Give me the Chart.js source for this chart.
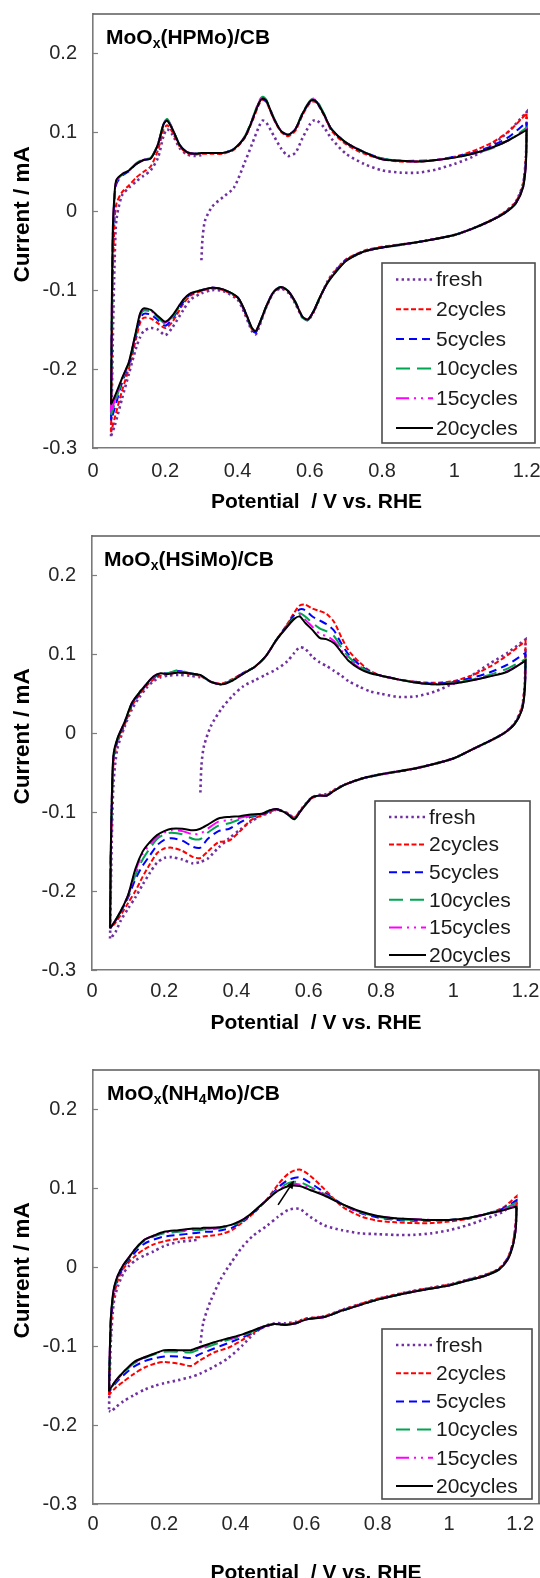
<!DOCTYPE html>
<html>
<head>
<meta charset="utf-8">
<title>MoOx/CB cyclic voltammograms</title>
<script src="https://cdn.jsdelivr.net/npm/chart.js@4.4.1/dist/chart.umd.min.js"></script>
<style>
    html, body { margin: 0; padding: 0; background: #fff; }
    body { position: relative; width: 540px; height: 1578px; overflow: hidden; }
    canvas { position: absolute; left: 0; }
</style>
</head>
<body>
<canvas id="chart-hpmo" width="540" height="520" style="top:0px"></canvas>
<canvas id="chart-hsimo" width="540" height="520" style="top:520px"></canvas>
<canvas id="chart-nh4mo" width="540" height="546" style="top:1040px"></canvas>
<script>
// ==================== Data ====================

const seriesLabels = ['fresh', '2cycles', '5cycles', '10cycles', '15cycles', '20cycles'];
const xTicks = [0, 0.2, 0.4, 0.6, 0.8, 1, 1.2];
const xTickLabels = ['0', '0.2', '0.4', '0.6', '0.8', '1', '1.2'];
const yTicks = [-0.3, -0.2, -0.1, 0, 0.1, 0.2];
const yTickLabels = ['-0.3', '-0.2', '-0.1', '0', '0.1', '0.2'];

// MoOx(HPMo)/CB  - potential (V vs. RHE): anodic sweep, then cathodic sweep
const hpmoPotential = [
    0.05, 0.052, 0.055, 0.06, 0.065, 0.08, 0.1, 0.12, 0.14, 0.16, 0.18, 0.195, 0.205, 0.22, 0.24, 0.26, 0.28, 0.3, 0.3, 0.3, 0.303, 0.31, 0.33, 0.36, 0.39, 0.42, 0.44, 0.46, 0.47, 0.48, 0.5, 0.52, 0.54, 0.56, 0.58, 0.6, 0.61, 0.62, 0.64, 0.66, 0.7, 0.75, 0.8, 0.85, 0.9, 0.95, 1.0, 1.05, 1.1, 1.15, 1.2,
    1.2, 1.198, 1.19, 1.17, 1.14, 1.1, 1.05, 1.0, 0.9, 0.8, 0.75, 0.7, 0.67, 0.65, 0.63, 0.61, 0.595, 0.58, 0.56, 0.54, 0.52, 0.5, 0.48, 0.46, 0.45, 0.44, 0.42, 0.4, 0.36, 0.33, 0.3, 0.27, 0.25, 0.22, 0.2, 0.18, 0.16, 0.14, 0.13, 0.12, 0.1, 0.08, 0.06, 0.05
];
// current (mA)
const hpmoFresh = [
    -0.285, -0.24, -0.16, -0.06, -0.01, 0.020, 0.030, 0.038, 0.045, 0.052, 0.068, 0.095, 0.104, 0.097, 0.080, 0.072, 0.070, 0.071, null, -0.062, -0.035, -0.012, 0.006, 0.018, 0.030, 0.062, 0.085, 0.108, 0.115, 0.112, 0.096, 0.080, 0.070, 0.074, 0.093, 0.110, 0.115, 0.115, 0.106, 0.092, 0.073, 0.060, 0.052, 0.049, 0.049, 0.053, 0.060, 0.069, 0.083, 0.101, 0.126,
    0.126, 0.07, 0.035, 0.012, -0.001, -0.012, -0.022, -0.030, -0.039, -0.046, -0.051, -0.062, -0.075, -0.088, -0.108, -0.128, -0.138, -0.135, -0.117, -0.103, -0.098, -0.103, -0.121, -0.146, -0.156, -0.152, -0.130, -0.112, -0.101, -0.100, -0.104, -0.112, -0.125, -0.147, -0.157, -0.150, -0.148, -0.152, -0.160, -0.172, -0.205, -0.238, -0.272, -0.285
];
const hpmoCycles2 = [
    -0.28, -0.2, -0.08, -0.01, 0.01, 0.024, 0.033, 0.043, 0.050, 0.057, 0.078, 0.103, 0.109, 0.100, 0.082, 0.074, 0.072, 0.073, 0.073, 0.073, 0.073, 0.073, 0.073, 0.073, 0.078, 0.093, 0.113, 0.136, 0.141, 0.138, 0.117, 0.101, 0.095, 0.102, 0.122, 0.137, 0.139, 0.137, 0.121, 0.102, 0.085, 0.073, 0.066, 0.063, 0.063, 0.065, 0.069, 0.076, 0.086, 0.101, 0.124,
    0.124, 0.07, 0.034, 0.012, -0.001, -0.012, -0.022, -0.030, -0.039, -0.045, -0.050, -0.061, -0.076, -0.089, -0.107, -0.128, -0.137, -0.134, -0.116, -0.102, -0.097, -0.102, -0.121, -0.144, -0.153, -0.150, -0.128, -0.110, -0.100, -0.098, -0.101, -0.107, -0.117, -0.140, -0.148, -0.142, -0.136, -0.135, -0.142, -0.160, -0.198, -0.228, -0.262, -0.28
];
const hpmoCycles5 = [
    -0.265, -0.15, -0.04, 0.018, 0.035, 0.045, 0.051, 0.060, 0.065, 0.067, 0.085, 0.110, 0.116, 0.104, 0.084, 0.075, 0.073, 0.074, 0.074, 0.074, 0.074, 0.074, 0.074, 0.074, 0.079, 0.094, 0.115, 0.138, 0.142, 0.139, 0.118, 0.102, 0.097, 0.104, 0.124, 0.138, 0.140, 0.138, 0.122, 0.104, 0.087, 0.075, 0.067, 0.064, 0.064, 0.065, 0.069, 0.074, 0.082, 0.094, 0.113,
    0.113, 0.065, 0.032, 0.011, -0.002, -0.012, -0.022, -0.030, -0.039, -0.046, -0.051, -0.062, -0.077, -0.090, -0.107, -0.127, -0.137, -0.134, -0.115, -0.101, -0.096, -0.102, -0.120, -0.144, -0.154, -0.150, -0.127, -0.109, -0.099, -0.097, -0.100, -0.105, -0.115, -0.136, -0.145, -0.138, -0.131, -0.130, -0.137, -0.155, -0.193, -0.218, -0.250, -0.265
];
const hpmoCycles10 = [
    -0.258, -0.14, -0.03, 0.022, 0.038, 0.046, 0.052, 0.061, 0.066, 0.068, 0.086, 0.111, 0.117, 0.105, 0.084, 0.075, 0.073, 0.074, 0.074, 0.074, 0.074, 0.074, 0.074, 0.074, 0.079, 0.095, 0.116, 0.140, 0.145, 0.141, 0.119, 0.102, 0.097, 0.104, 0.125, 0.140, 0.143, 0.140, 0.123, 0.104, 0.087, 0.075, 0.067, 0.064, 0.063, 0.065, 0.068, 0.073, 0.079, 0.090, 0.106,
    0.106, 0.062, 0.031, 0.010, -0.002, -0.012, -0.022, -0.030, -0.039, -0.046, -0.051, -0.063, -0.078, -0.090, -0.107, -0.127, -0.138, -0.135, -0.115, -0.101, -0.096, -0.102, -0.120, -0.143, -0.153, -0.149, -0.126, -0.109, -0.099, -0.097, -0.100, -0.104, -0.113, -0.134, -0.142, -0.135, -0.127, -0.126, -0.133, -0.152, -0.191, -0.215, -0.244, -0.258
];
const hpmoCycles15 = [
    -0.255, -0.13, -0.025, 0.024, 0.039, 0.047, 0.052, 0.060, 0.065, 0.067, 0.085, 0.110, 0.116, 0.104, 0.084, 0.075, 0.073, 0.074, 0.074, 0.074, 0.074, 0.074, 0.074, 0.074, 0.079, 0.094, 0.115, 0.139, 0.144, 0.140, 0.118, 0.102, 0.097, 0.104, 0.124, 0.139, 0.142, 0.139, 0.122, 0.104, 0.087, 0.075, 0.066, 0.064, 0.063, 0.065, 0.068, 0.073, 0.080, 0.090, 0.104,
    0.104, 0.061, 0.030, 0.010, -0.002, -0.012, -0.022, -0.030, -0.039, -0.046, -0.051, -0.063, -0.078, -0.090, -0.107, -0.127, -0.137, -0.134, -0.115, -0.101, -0.096, -0.102, -0.120, -0.143, -0.152, -0.148, -0.126, -0.109, -0.099, -0.097, -0.100, -0.104, -0.112, -0.133, -0.141, -0.134, -0.126, -0.124, -0.131, -0.151, -0.190, -0.213, -0.240, -0.255
];
const hpmoCycles20 = [
    -0.245, -0.12, -0.02, 0.025, 0.040, 0.047, 0.052, 0.060, 0.065, 0.067, 0.085, 0.110, 0.115, 0.104, 0.084, 0.075, 0.073, 0.074, 0.074, 0.074, 0.074, 0.074, 0.074, 0.074, 0.079, 0.094, 0.115, 0.138, 0.143, 0.140, 0.118, 0.102, 0.097, 0.104, 0.124, 0.139, 0.141, 0.138, 0.122, 0.104, 0.087, 0.075, 0.066, 0.064, 0.063, 0.065, 0.068, 0.073, 0.080, 0.090, 0.103,
    0.103, 0.06, 0.03, 0.01, -0.002, -0.012, -0.022, -0.030, -0.039, -0.046, -0.051, -0.063, -0.078, -0.090, -0.107, -0.127, -0.137, -0.134, -0.115, -0.101, -0.096, -0.102, -0.120, -0.143, -0.152, -0.148, -0.126, -0.109, -0.099, -0.097, -0.100, -0.104, -0.112, -0.132, -0.140, -0.133, -0.125, -0.123, -0.130, -0.150, -0.190, -0.212, -0.235, -0.245
];

// MoOx(HSiMo)/CB
const hsimoPotential = [
    0.05, 0.052, 0.056, 0.06, 0.07, 0.09, 0.11, 0.13, 0.15, 0.17, 0.19, 0.21, 0.24, 0.27, 0.3, 0.3, 0.3, 0.303, 0.31, 0.33, 0.36, 0.39, 0.42, 0.45, 0.48, 0.51, 0.54, 0.56, 0.575, 0.59, 0.61, 0.63, 0.65, 0.67, 0.69, 0.71, 0.74, 0.77, 0.8, 0.85, 0.9, 0.95, 1.0, 1.05, 1.1, 1.15, 1.2,
    1.2, 1.198, 1.19, 1.17, 1.14, 1.1, 1.05, 1.0, 0.9, 0.8, 0.75, 0.7, 0.67, 0.65, 0.63, 0.61, 0.59, 0.575, 0.56, 0.54, 0.51, 0.49, 0.47, 0.44, 0.41, 0.38, 0.35, 0.32, 0.3, 0.28, 0.25, 0.22, 0.2, 0.18, 0.16, 0.14, 0.12, 0.1, 0.08, 0.065, 0.055, 0.05
];
const hsimoFresh = [
    -0.26, -0.2, -0.11, -0.06, -0.02, 0.008, 0.030, 0.045, 0.057, 0.066, 0.071, 0.073, 0.074, 0.073, 0.071, null, -0.075, -0.040, -0.016, 0.010, 0.032, 0.048, 0.060, 0.067, 0.074, 0.081, 0.091, 0.102, 0.109, 0.107, 0.097, 0.090, 0.085, 0.079, 0.073, 0.066, 0.059, 0.053, 0.050, 0.046, 0.047, 0.053, 0.063, 0.073, 0.088, 0.102, 0.119,
    0.119, 0.065, 0.033, 0.013, 0.0, -0.010, -0.021, -0.032, -0.044, -0.052, -0.057, -0.065, -0.072, -0.077, -0.078, -0.081, -0.090, -0.099, -0.107, -0.101, -0.097, -0.101, -0.104, -0.112, -0.122, -0.133, -0.145, -0.159, -0.163, -0.165, -0.160, -0.157, -0.158, -0.164, -0.177, -0.192, -0.208, -0.222, -0.237, -0.252, -0.258, -0.26
];
const hsimoCycles2 = [
    -0.245, -0.16, -0.08, -0.035, -0.012, 0.010, 0.034, 0.048, 0.060, 0.068, 0.073, 0.075, 0.077, 0.075, 0.073, 0.073, 0.073, 0.072, 0.070, 0.065, 0.063, 0.069, 0.077, 0.084, 0.097, 0.118, 0.138, 0.153, 0.162, 0.163, 0.158, 0.155, 0.151, 0.141, 0.122, 0.105, 0.090, 0.079, 0.073, 0.068, 0.065, 0.064, 0.066, 0.073, 0.084, 0.099, 0.117,
    0.117, 0.065, 0.033, 0.013, 0.0, -0.010, -0.021, -0.032, -0.044, -0.052, -0.057, -0.065, -0.072, -0.078, -0.079, -0.082, -0.091, -0.099, -0.107, -0.101, -0.097, -0.100, -0.104, -0.110, -0.124, -0.136, -0.138, -0.150, -0.158, -0.157, -0.149, -0.145, -0.146, -0.152, -0.166, -0.182, -0.200, -0.215, -0.230, -0.240, -0.245, -0.246
];
const hsimoCycles5 = [
    -0.247, -0.155, -0.07, -0.03, -0.009, 0.012, 0.036, 0.050, 0.061, 0.070, 0.075, 0.076, 0.079, 0.076, 0.074, 0.074, 0.074, 0.073, 0.071, 0.065, 0.062, 0.068, 0.077, 0.084, 0.097, 0.118, 0.137, 0.150, 0.157, 0.156, 0.148, 0.143, 0.138, 0.130, 0.114, 0.100, 0.087, 0.078, 0.073, 0.068, 0.065, 0.063, 0.065, 0.070, 0.077, 0.087, 0.102,
    0.102, 0.06, 0.031, 0.012, 0.0, -0.010, -0.021, -0.032, -0.044, -0.052, -0.057, -0.065, -0.073, -0.079, -0.079, -0.081, -0.091, -0.100, -0.108, -0.102, -0.096, -0.099, -0.103, -0.106, -0.113, -0.121, -0.124, -0.134, -0.145, -0.144, -0.136, -0.133, -0.135, -0.142, -0.155, -0.168, -0.185, -0.208, -0.226, -0.238, -0.245, -0.247
];
const hsimoCycles10 = [
    -0.247, -0.152, -0.065, -0.028, -0.008, 0.013, 0.037, 0.051, 0.062, 0.071, 0.075, 0.076, 0.080, 0.076, 0.074, 0.074, 0.074, 0.073, 0.071, 0.065, 0.062, 0.068, 0.076, 0.084, 0.097, 0.118, 0.136, 0.147, 0.152, 0.148, 0.140, 0.133, 0.129, 0.123, 0.109, 0.097, 0.085, 0.077, 0.073, 0.068, 0.064, 0.062, 0.064, 0.068, 0.074, 0.082, 0.094,
    0.094, 0.056, 0.030, 0.012, 0.0, -0.010, -0.021, -0.032, -0.044, -0.052, -0.057, -0.065, -0.073, -0.079, -0.079, -0.081, -0.091, -0.100, -0.109, -0.102, -0.096, -0.098, -0.102, -0.105, -0.109, -0.114, -0.117, -0.126, -0.134, -0.134, -0.128, -0.126, -0.128, -0.134, -0.146, -0.160, -0.180, -0.206, -0.225, -0.237, -0.244, -0.247
];
const hsimoCycles15 = [
    -0.247, -0.15, -0.062, -0.026, -0.007, 0.014, 0.038, 0.051, 0.062, 0.072, 0.076, 0.075, 0.078, 0.076, 0.074, 0.074, 0.074, 0.073, 0.071, 0.065, 0.062, 0.067, 0.076, 0.084, 0.097, 0.118, 0.135, 0.146, 0.150, 0.144, 0.135, 0.126, 0.123, 0.117, 0.105, 0.094, 0.083, 0.076, 0.073, 0.068, 0.064, 0.062, 0.063, 0.067, 0.072, 0.079, 0.092,
    0.092, 0.055, 0.030, 0.012, 0.0, -0.010, -0.021, -0.032, -0.044, -0.052, -0.057, -0.065, -0.073, -0.079, -0.079, -0.081, -0.091, -0.100, -0.109, -0.102, -0.096, -0.098, -0.102, -0.104, -0.107, -0.110, -0.112, -0.121, -0.127, -0.128, -0.124, -0.123, -0.126, -0.131, -0.141, -0.153, -0.175, -0.205, -0.225, -0.237, -0.244, -0.247
];
const hsimoCycles20 = [
    -0.247, -0.15, -0.06, -0.025, -0.007, 0.014, 0.038, 0.051, 0.062, 0.072, 0.076, 0.075, 0.077, 0.076, 0.074, 0.074, 0.074, 0.073, 0.071, 0.065, 0.062, 0.067, 0.076, 0.084, 0.097, 0.118, 0.135, 0.145, 0.148, 0.140, 0.131, 0.121, 0.119, 0.114, 0.103, 0.092, 0.082, 0.076, 0.073, 0.068, 0.064, 0.062, 0.063, 0.067, 0.072, 0.078, 0.092,
    0.092, 0.055, 0.03, 0.012, 0.0, -0.010, -0.021, -0.032, -0.044, -0.052, -0.057, -0.065, -0.073, -0.079, -0.079, -0.081, -0.091, -0.100, -0.109, -0.102, -0.096, -0.098, -0.102, -0.103, -0.105, -0.106, -0.108, -0.116, -0.121, -0.123, -0.121, -0.121, -0.124, -0.129, -0.138, -0.150, -0.172, -0.205, -0.225, -0.237, -0.244, -0.247
];

// MoOx(NH4Mo)/CB
const nh4moPotential = [
    0.045, 0.047, 0.05, 0.055, 0.06, 0.07, 0.085, 0.1, 0.12, 0.145, 0.17, 0.2, 0.24, 0.28, 0.3, 0.3, 0.3, 0.31, 0.33, 0.36, 0.39, 0.42, 0.45, 0.49, 0.52, 0.55, 0.58, 0.61, 0.65, 0.7, 0.75, 0.8, 0.85, 0.9, 0.95, 1.0, 1.05, 1.1, 1.15, 1.19,
    1.19, 1.188, 1.18, 1.165, 1.14, 1.1, 1.05, 1.0, 0.9, 0.8, 0.7, 0.65, 0.6, 0.57, 0.54, 0.51, 0.48, 0.45, 0.42, 0.38, 0.34, 0.3, 0.275, 0.24, 0.2, 0.175, 0.145, 0.115, 0.085, 0.065, 0.05, 0.045
];
const nh4moFresh = [
    -0.180, -0.14, -0.095, -0.060, -0.040, -0.024, -0.008, 0.001, 0.009, 0.015, 0.020, 0.027, 0.032, 0.034, 0.035, null, -0.103, -0.070, -0.043, -0.014, 0.007, 0.026, 0.040, 0.053, 0.064, 0.073, 0.074, 0.064, 0.053, 0.047, 0.043, 0.042, 0.041, 0.041, 0.043, 0.047, 0.053, 0.061, 0.070, 0.084,
    0.084, 0.055, 0.030, 0.011, -0.002, -0.010, -0.016, -0.022, -0.030, -0.040, -0.054, -0.062, -0.065, -0.069, -0.071, -0.071, -0.075, -0.085, -0.099, -0.115, -0.126, -0.135, -0.139, -0.143, -0.147, -0.150, -0.155, -0.162, -0.170, -0.177, -0.183, -0.182
];
const nh4moCycles2 = [
    -0.162, -0.12, -0.08, -0.048, -0.034, -0.016, -0.002, 0.006, 0.015, 0.023, 0.029, 0.033, 0.036, 0.038, 0.038, 0.038, 0.038, 0.039, 0.040, 0.042, 0.047, 0.057, 0.068, 0.087, 0.105, 0.119, 0.124, 0.116, 0.099, 0.077, 0.065, 0.059, 0.057, 0.056, 0.056, 0.058, 0.061, 0.067, 0.075, 0.090,
    0.090, 0.06, 0.032, 0.012, -0.002, -0.010, -0.016, -0.022, -0.030, -0.040, -0.054, -0.062, -0.065, -0.070, -0.072, -0.072, -0.076, -0.083, -0.092, -0.102, -0.108, -0.118, -0.125, -0.122, -0.120, -0.122, -0.127, -0.135, -0.145, -0.152, -0.159, -0.162
];
const nh4moCycles5 = [
    -0.158, -0.115, -0.07, -0.042, -0.028, -0.013, 0.000, 0.009, 0.020, 0.030, 0.035, 0.039, 0.041, 0.043, 0.044, 0.044, 0.044, 0.045, 0.045, 0.047, 0.050, 0.058, 0.069, 0.086, 0.101, 0.111, 0.114, 0.107, 0.095, 0.080, 0.069, 0.063, 0.060, 0.059, 0.059, 0.060, 0.062, 0.067, 0.074, 0.085,
    0.085, 0.055, 0.030, 0.011, -0.003, -0.011, -0.017, -0.023, -0.031, -0.041, -0.055, -0.063, -0.066, -0.071, -0.073, -0.072, -0.076, -0.082, -0.089, -0.096, -0.103, -0.110, -0.115, -0.113, -0.113, -0.115, -0.119, -0.126, -0.137, -0.146, -0.155, -0.158
];
const nh4moCycles10 = [
    -0.157, -0.112, -0.067, -0.040, -0.026, -0.011, 0.002, 0.011, 0.023, 0.034, 0.039, 0.043, 0.045, 0.047, 0.047, 0.047, 0.047, 0.048, 0.048, 0.050, 0.053, 0.059, 0.070, 0.086, 0.099, 0.107, 0.108, 0.102, 0.093, 0.080, 0.070, 0.064, 0.061, 0.060, 0.060, 0.060, 0.062, 0.067, 0.073, 0.082,
    0.082, 0.052, 0.029, 0.010, -0.003, -0.011, -0.017, -0.023, -0.031, -0.041, -0.055, -0.063, -0.066, -0.071, -0.073, -0.072, -0.075, -0.081, -0.087, -0.092, -0.098, -0.104, -0.108, -0.107, -0.107, -0.110, -0.115, -0.122, -0.134, -0.144, -0.154, -0.157
];
const nh4moCycles15 = [
    -0.157, -0.11, -0.066, -0.039, -0.025, -0.010, 0.003, 0.012, 0.024, 0.035, 0.040, 0.044, 0.046, 0.048, 0.048, 0.048, 0.048, 0.049, 0.049, 0.051, 0.054, 0.060, 0.070, 0.086, 0.098, 0.105, 0.105, 0.100, 0.092, 0.080, 0.070, 0.065, 0.062, 0.061, 0.060, 0.060, 0.062, 0.067, 0.072, 0.079,
    0.079, 0.05, 0.028, 0.010, -0.003, -0.011, -0.017, -0.023, -0.031, -0.041, -0.055, -0.063, -0.066, -0.071, -0.073, -0.072, -0.075, -0.080, -0.086, -0.091, -0.096, -0.102, -0.106, -0.106, -0.106, -0.109, -0.114, -0.121, -0.133, -0.143, -0.153, -0.157
];
const nh4moCycles20 = [
    -0.157, -0.11, -0.065, -0.038, -0.024, -0.010, 0.003, 0.012, 0.024, 0.035, 0.040, 0.045, 0.047, 0.049, 0.049, 0.049, 0.049, 0.050, 0.050, 0.051, 0.054, 0.060, 0.070, 0.086, 0.097, 0.103, 0.103, 0.098, 0.091, 0.080, 0.071, 0.065, 0.062, 0.061, 0.060, 0.060, 0.062, 0.067, 0.072, 0.077,
    0.077, 0.05, 0.028, 0.010, -0.003, -0.011, -0.017, -0.023, -0.031, -0.041, -0.055, -0.063, -0.066, -0.071, -0.073, -0.072, -0.075, -0.080, -0.085, -0.090, -0.095, -0.101, -0.105, -0.105, -0.105, -0.109, -0.114, -0.120, -0.133, -0.143, -0.153, -0.157
];

// arrow in the NH4Mo panel (potential, current)
const nh4moArrowFrom = [0.52, 0.079];
const nh4moArrowTo = [0.565, 0.110];

// ==================== Styles ====================

const FONT = "'Liberation Sans', Arial, Helvetica, sans-serif";

const STYLES = [
    { color: '#7030A0', width: 2.6, dash: [2.4, 3.2] },           // fresh: dotted
    { color: '#FF0000', width: 2, dash: [5, 2.5] },               // short dash
    { color: '#0000FF', width: 2, dash: [8, 5] },                 // dash
    { color: '#00A550', width: 2, dash: [14, 7] },                // long dash
    { color: '#FF00FF', width: 2, dash: [13, 5, 2, 5, 2, 5] },    // long dash dot dot
    { color: '#000000', width: 2, dash: [] }                      // solid
];

const PANELS = [
    {
        canvas: 'chart-hpmo', height: 520, areaTop: 14, areaBottom: 448, left: 93, padRight: 0, xMax: 1.237,
        label: [['MoO', false], ['x', true], ['(HPMo)/CB', false]], labelX: 106, labelY: 44,
        tickPad: 11, titlePad: 5, rightBorder: false,
        legend: { left: 382, top: 263, width: 153, height: 180, first: 16.5, gap: 29.7 },
        potential: hpmoPotential,
        currents: [hpmoFresh, hpmoCycles2, hpmoCycles5, hpmoCycles10, hpmoCycles15, hpmoCycles20],
        arrow: null
    },
    {
        canvas: 'chart-hsimo', height: 520, areaTop: 16, areaBottom: 450, left: 92, padRight: 0, xMax: 1.24,
        label: [['MoO', false], ['x', true], ['(HSiMo)/CB', false]], labelX: 104, labelY: 46,
        tickPad: 9, titlePad: 4, rightBorder: false,
        legend: { left: 375, top: 281, width: 155, height: 166, first: 16, gap: 27.6 },
        potential: hsimoPotential,
        currents: [hsimoFresh, hsimoCycles2, hsimoCycles5, hsimoCycles10, hsimoCycles15, hsimoCycles20],
        arrow: null
    },
    {
        canvas: 'chart-nh4mo', height: 546, areaTop: 30, areaBottom: 464, left: 93, padRight: 1, xMax: 1.253,
        label: [['MoO', false], ['x', true], ['(NH', false], ['4', true], ['Mo)/CB', false]], labelX: 107, labelY: 60,
        tickPad: 8, titlePad: 0, rightBorder: true,
        legend: { left: 382, top: 289, width: 150, height: 170, first: 16, gap: 28.2 },
        potential: nh4moPotential,
        currents: [nh4moFresh, nh4moCycles2, nh4moCycles5, nh4moCycles10, nh4moCycles15, nh4moCycles20],
        arrow: { from: nh4moArrowFrom, to: nh4moArrowTo }
    }
];

// ==================== Plugin: frame, label, y title, legend ====================

const panelDecor = {
    id: 'panelDecor',
    afterDatasetsDraw(chart, args, opts) {
        const { ctx, chartArea: a, scales: { x, y } } = chart;
        ctx.save();

        // top edge of the plot frame (and right edge where the picture has one)
        ctx.strokeStyle = '#5a5a5a';
        ctx.lineWidth = 1.6;
        ctx.setLineDash([]);
        ctx.beginPath();
        ctx.moveTo(a.left, a.top);
        ctx.lineTo(a.right, a.top);
        if (opts.rightBorder) ctx.lineTo(a.right, a.bottom);
        ctx.stroke();

        // inner tick marks on the y axis
        ctx.strokeStyle = '#7f7f7f';
        ctx.lineWidth = 1.2;
        yTicks.forEach(v => {
            const py = Math.round(y.getPixelForValue(v)) + 0.5;
            ctx.beginPath();
            ctx.moveTo(a.left, py);
            ctx.lineTo(a.left + 5, py);
            ctx.stroke();
        });

        // arrow
        if (opts.arrow) {
            const x0 = x.getPixelForValue(opts.arrow.from[0]);
            const y0 = y.getPixelForValue(opts.arrow.from[1]);
            const x1 = x.getPixelForValue(opts.arrow.to[0]);
            const y1 = y.getPixelForValue(opts.arrow.to[1]);
            const ang = Math.atan2(y1 - y0, x1 - x0);
            ctx.strokeStyle = '#000';
            ctx.fillStyle = '#000';
            ctx.lineWidth = 1.6;
            ctx.beginPath();
            ctx.moveTo(x0, y0);
            ctx.lineTo(x1 - 5 * Math.cos(ang), y1 - 5 * Math.sin(ang));
            ctx.stroke();
            ctx.beginPath();
            ctx.moveTo(x1, y1);
            ctx.lineTo(x1 - 9 * Math.cos(ang - 0.4), y1 - 9 * Math.sin(ang - 0.4));
            ctx.lineTo(x1 - 9 * Math.cos(ang + 0.4), y1 - 9 * Math.sin(ang + 0.4));
            ctx.closePath();
            ctx.fill();
        }

        // panel label with subscripts
        ctx.fillStyle = '#000';
        ctx.textBaseline = 'alphabetic';
        ctx.textAlign = 'left';
        let cx = opts.labelX;
        opts.label.forEach(([text, sub]) => {
            ctx.font = sub ? `bold 14px ${FONT}` : `bold 21px ${FONT}`;
            ctx.fillText(text, cx, opts.labelY + (sub ? 4 : 0));
            cx += ctx.measureText(text).width;
        });

        // y axis title
        ctx.save();
        ctx.translate(23, y.getPixelForValue(0) + 3);
        ctx.rotate(-Math.PI / 2);
        ctx.font = `bold 22.5px ${FONT}`;
        ctx.textAlign = 'center';
        ctx.textBaseline = 'middle';
        ctx.fillText('Current / mA', 0, 0);
        ctx.restore();

        // legend
        const lg = opts.legend;
        ctx.fillStyle = '#fff';
        ctx.fillRect(lg.left, lg.top, lg.width, lg.height);
        ctx.strokeStyle = '#4d4d4d';
        ctx.lineWidth = 1.6;
        ctx.strokeRect(lg.left, lg.top, lg.width, lg.height);
        ctx.font = `21px ${FONT}`;
        ctx.textBaseline = 'middle';
        chart.data.datasets.forEach((ds, i) => {
            const ry = lg.top + lg.first + i * lg.gap;
            ctx.strokeStyle = ds.borderColor;
            ctx.lineWidth = ds.borderWidth;
            ctx.setLineDash(ds.borderDash);
            ctx.beginPath();
            ctx.moveTo(lg.left + 14, ry);
            ctx.lineTo(lg.left + 51, ry);
            ctx.stroke();
            ctx.setLineDash([]);
            ctx.fillStyle = '#1a1a1a';
            ctx.fillText(ds.label, lg.left + 54, ry + 1);
        });

        ctx.restore();
    }
};

// ==================== Charts ====================

function createPanel(p) {
    const datasets = p.currents.map((current, i) => ({
        label: seriesLabels[i],
        data: p.potential.map((v, k) => ({ x: v, y: current[k] })),
        showLine: true,
        borderColor: STYLES[i].color,
        borderWidth: STYLES[i].width,
        borderDash: STYLES[i].dash,
        pointRadius: 0,
        tension: 0.25,
        fill: false,
        spanGaps: false,
        order: seriesLabels.length - 1 - i
    }));

    return new Chart(document.getElementById(p.canvas), {
        type: 'scatter',
        data: { datasets },
        plugins: [panelDecor],
        options: {
            responsive: false,
            animation: false,
            devicePixelRatio: 1,
            events: [],
            layout: { padding: { top: p.areaTop, right: p.padRight, left: 0, bottom: 0 } },
            plugins: {
                legend: { display: false },
                tooltip: { enabled: false },
                panelDecor: {
                    label: p.label, labelX: p.labelX, labelY: p.labelY,
                    legend: p.legend, rightBorder: p.rightBorder, arrow: p.arrow
                }
            },
            scales: {
                x: {
                    type: 'linear',
                    position: 'bottom',
                    min: 0,
                    max: p.xMax,
                    border: { color: '#7a7a7a', width: 1.6 },
                    grid: { display: false, drawTicks: false },
                    afterBuildTicks: s => { s.ticks = xTicks.map(v => ({ value: v })); },
                    afterFit: s => {
                        s.height = p.height - p.areaBottom;
                        s.paddingLeft = 0;
                        s.paddingRight = 0;
                    },
                    ticks: {
                        autoSkip: false,
                        maxRotation: 0,
                        padding: p.tickPad,
                        color: '#262626',
                        font: { family: FONT, size: 20 },
                        callback: (value, index) => xTickLabels[index]
                    },
                    title: {
                        display: true,
                        text: 'Potential  / V vs. RHE',
                        color: '#000',
                        font: { family: FONT, size: 21, weight: 'bold' },
                        padding: { top: 0, bottom: p.titlePad }
                    }
                },
                y: {
                    type: 'linear',
                    position: 'left',
                    min: -0.3,
                    max: 0.25,
                    border: { color: '#7a7a7a', width: 1.6 },
                    grid: { display: false, drawTicks: false },
                    afterBuildTicks: s => { s.ticks = yTicks.map(v => ({ value: v })); },
                    afterFit: s => {
                        s.width = p.left;
                        s.paddingTop = 0;
                        s.paddingBottom = 0;
                    },
                    ticks: {
                        autoSkip: false,
                        padding: 16,
                        color: '#262626',
                        font: { family: FONT, size: 20 },
                        callback: (value, index) => yTickLabels[index]
                    }
                }
            }
        }
    });
}

PANELS.forEach(createPanel);
</script>
</body>
</html>
